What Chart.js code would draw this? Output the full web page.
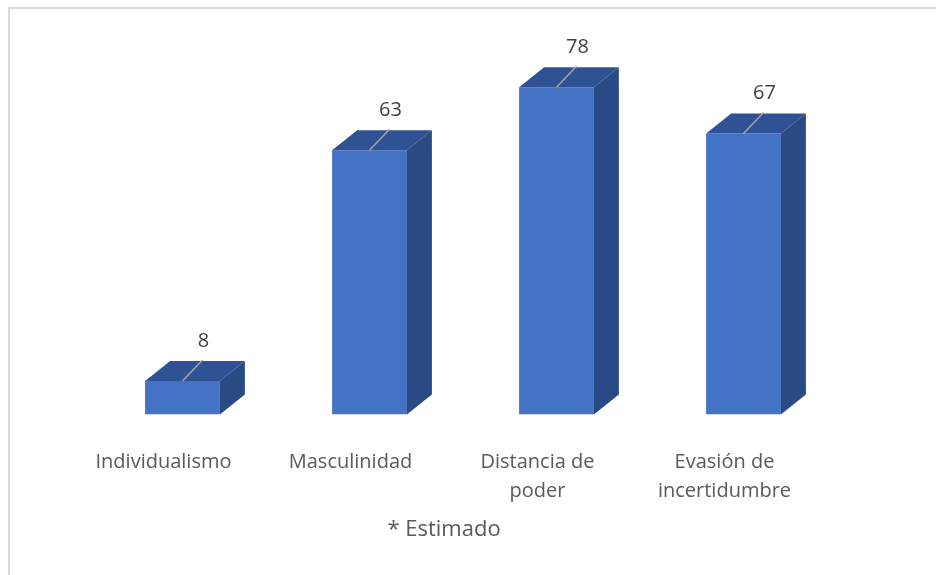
<!DOCTYPE html>
<html>
<head>
<meta charset="utf-8">
<script src="https://cdn.jsdelivr.net/npm/chart.js@4"></script>
<style>
  html, body { margin: 0; padding: 0; background: #fff; }
  #wrap { position: relative; width: 936px; height: 575px; }
  #frame { position: absolute; left: 8px; top: 7px; width: 940px; height: 580px;
           border-left: 2px solid #d9d9d9; border-top: 2px solid #d9d9d9; box-sizing: border-box; }
  canvas { position: absolute; left: 0; top: 0; }
</style>
</head>
<body>
<div id="wrap">
  <div id="frame"></div>
  <canvas id="dimChart" width="936" height="575"></canvas>
</div>
<script>
// datos del gráfico
const categories = [['Individualismo'], ['Masculinidad'], ['Distancia de', 'poder'], ['Evasión de', 'incertidumbre']];
const values = [8, 63, 78, 67];
const chartTitle = '* Estimado';

// profundidad 3D (px)
const DEPTH_X = 25;
const DEPTH_Y = -20;
const SHIFT_X = 19; // las barras están algo a la derecha de las etiquetas

const bar3d = {
  id: 'bar3d',
  beforeDatasetsDraw(chart) {
    chart.ctx.save();
    chart.ctx.translate(SHIFT_X, 0);
  },
  afterDatasetsDraw(chart) {
    const ctx = chart.ctx;
    const meta = chart.getDatasetMeta(0);
    meta.data.forEach((bar, i) => {
      const L = bar.x - bar.width / 2;
      const R = bar.x + bar.width / 2;
      const top = bar.y;
      const bottom = bar.base;

      // cara superior
      ctx.beginPath();
      ctx.moveTo(L, top);
      ctx.lineTo(R, top);
      ctx.lineTo(R + DEPTH_X, top + DEPTH_Y);
      ctx.lineTo(L + DEPTH_X, top + DEPTH_Y);
      ctx.closePath();
      ctx.fillStyle = '#2e5293';
      ctx.fill();

      // cara lateral
      ctx.beginPath();
      ctx.moveTo(R, top);
      ctx.lineTo(R + DEPTH_X, top + DEPTH_Y);
      ctx.lineTo(R + DEPTH_X, bottom + DEPTH_Y);
      ctx.lineTo(R, bottom);
      ctx.closePath();
      ctx.fillStyle = '#2a4a85';
      ctx.fill();

      // línea guía
      ctx.beginPath();
      ctx.moveTo(bar.x, top);
      ctx.lineTo(bar.x + 20, top - 21);
      ctx.strokeStyle = '#a6a6a6';
      ctx.lineWidth = 1.5;
      ctx.stroke();

      // etiqueta de valor
      ctx.fillStyle = '#404040';
      ctx.font = '20px "Open Sans"';
      ctx.textAlign = 'center';
      ctx.textBaseline = 'middle';
      ctx.fillText(values[i], bar.x + 21, top - 40);
    });
    ctx.restore();
  }
};

const ctx = document.getElementById('dimChart').getContext('2d');
new Chart(ctx, {
  type: 'bar',
  data: {
    labels: categories,
    datasets: [{
      data: values,
      backgroundColor: '#4472c4',
      borderWidth: 0,
      barPercentage: 0.4,
      categoryPercentage: 1
    }]
  },
  options: {
    responsive: false,
    animation: false,
    layout: { padding: { left: 70, right: 118, top: 37, bottom: 0 } },
    plugins: {
      legend: { display: false },
      tooltip: { enabled: false },
      title: {
        display: true,
        text: chartTitle,
        position: 'bottom',
        color: '#595959',
        font: { family: 'Open Sans', size: 22, weight: 'normal' },
        padding: { top: 12, bottom: 32 }
      }
    },
    scales: {
      x: {
        grid: { display: false, drawTicks: false },
        border: { display: false },
        ticks: {
          color: '#595959',
          font: { family: 'Open Sans', size: 20, lineHeight: 1.45 },
          padding: 33,
          maxRotation: 0
        },
        afterFit(scale) { scale.height = 90; }
      },
      y: {
        display: false,
        min: 0,
        max: 90
      }
    }
  },
  plugins: [bar3d]
});
</script>
</body>
</html>
